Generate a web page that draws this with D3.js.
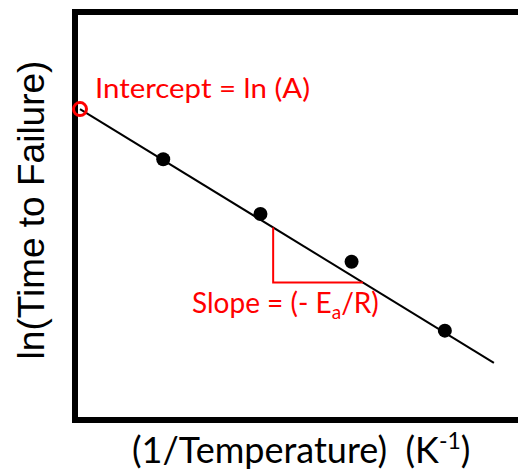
<!DOCTYPE html>
<html lang="en">
<head>
  <meta charset="UTF-8">
  <title>Arrhenius plot</title>
  <script src="https://cdn.jsdelivr.net/npm/d3@7"></script>
  <style>
    body, html {
      margin: 0;
      padding: 0;
      background: #fff;
    }
    svg {
      display: block;
    }
    .note {
      font-family: Lato, sans-serif;
      fill: #ff0000;
    }
    .xlabel {
      font-family: Lato, sans-serif;
      font-size: 36px;
      fill: #000;
      white-space: pre;
    }
    .ylabel {
      font-family: "Liberation Sans", Arial, sans-serif;
      font-size: 37px;
      fill: #000;
    }
  </style>
</head>
<body>
  <svg width="518" height="473"></svg>

  <script>
    // measured points (1/T, ln t), arbitrary units
    const invTemp = [1.90, 4.12, 6.20, 8.33];
    const lnTime = [6.39, 5.05, 3.88, 2.19];

    // fitted line
    const intercept = 7.62;
    const slope = -0.658;
    const lineX = [0, 9.45];

    // slope triangle legs (x positions along the line)
    const triX = [4.41, 6.46];

    const svg = d3.select("svg");

    const frame = { left: 75, right: 518, top: 12, bottom: 420 };

    const x = d3.scaleLinear().domain([0, 10]).range([80, 518]);
    const y = d3.scaleLinear().domain([0, 10]).range([frame.bottom, frame.top]);

    const fit = v => intercept + slope * v;

    // frame: left, top, bottom edges
    svg.append("path")
      .attr("d", `M${frame.right},${frame.top} H${frame.left} V${frame.bottom} H${frame.right}`)
      .attr("fill", "none")
      .attr("stroke", "#000")
      .attr("stroke-width", 6)
      .attr("stroke-linecap", "square");

    // fitted line
    svg.append("line")
      .attr("x1", x(lineX[0])).attr("y1", y(fit(lineX[0])))
      .attr("x2", x(lineX[1])).attr("y2", y(fit(lineX[1])))
      .attr("stroke", "#000")
      .attr("stroke-width", 2);

    // slope triangle
    svg.append("path")
      .attr("d", `M${x(triX[0])},${y(fit(triX[0]))} V${y(fit(triX[1]))} H${x(triX[1])}`)
      .attr("fill", "none")
      .attr("stroke", "#ff0000")
      .attr("stroke-width", 2);

    // data points
    svg.selectAll(".pt")
      .data(invTemp)
      .enter().append("circle")
      .attr("class", "pt")
      .attr("cx", d => x(d))
      .attr("cy", (d, i) => y(lnTime[i]))
      .attr("r", 7)
      .attr("fill", "#000");

    // intercept marker
    svg.append("circle")
      .attr("cx", x(0))
      .attr("cy", y(intercept))
      .attr("r", 6.5)
      .attr("fill", "none")
      .attr("stroke", "#ff0000")
      .attr("stroke-width", 3);

    svg.append("text")
      .attr("class", "note")
      .attr("x", 95)
      .attr("y", 98)
      .attr("font-size", 26)
      .attr("textLength", 215)
      .attr("lengthAdjust", "spacingAndGlyphs")
      .text("Intercept = ln (A)");

    const sl = svg.append("text")
      .attr("class", "note")
      .attr("x", 192)
      .attr("y", 313)
      .attr("font-size", 28);
    sl.append("tspan").text("Slope = (- E");
    sl.append("tspan").attr("font-size", 19).attr("dy", 6).text("a");
    sl.append("tspan").attr("dy", -6).text("/R)");

    // axis titles
    const xl = svg.append("text")
      .attr("class", "xlabel")
      .attr("x", 132)
      .attr("y", 463);
    xl.append("tspan").text("(1/Temperature)  (K");
    xl.append("tspan").attr("font-size", 23).attr("dy", -14).text("-1");
    xl.append("tspan").attr("dy", 14).text(")");

    svg.append("text")
      .attr("class", "ylabel")
      .attr("transform", "translate(44,210) rotate(-90)")
      .attr("text-anchor", "middle")
      .text("ln(Time to Failure)");
  </script>
</body>
</html>
